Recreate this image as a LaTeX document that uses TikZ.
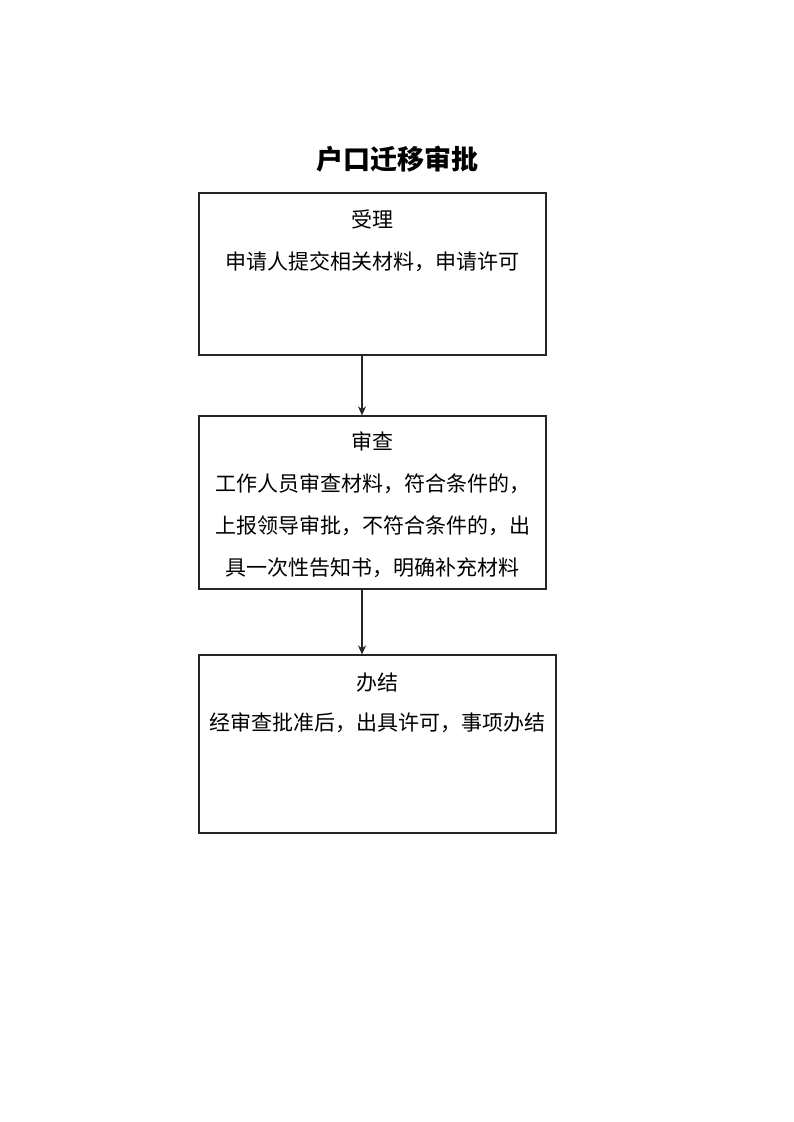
\documentclass[tikz,border=0pt]{standalone}
\usepackage{fontspec}
\newfontfamily\cjk{Noto Sans CJK SC}
\usetikzlibrary{arrows.meta}
\begin{document}
\begin{tikzpicture}[x=1pt,y=-1pt,
  box/.style={draw=black!85, line width=1.2pt, inner sep=0pt, fill=none},
  txt/.style={font=\cjk\fontsize{21}{21}\selectfont, inner sep=0pt, text height=0.88em, text depth=0.12em, anchor=center},
  ttl/.style={font=\cjk\bfseries\fontsize{27}{27}\selectfont, inner sep=0pt, text height=0.88em, text depth=0.12em, anchor=center},
  arr/.style={draw=black!85, line width=1.1pt, -{Stealth[length=9pt,width=8pt]}}]
\useasboundingbox[fill=white] (0,0) rectangle (793,1122);

\node[ttl] (title) at (397.5,166) {户口迁移审批};

\node[box, minimum width=347pt, minimum height=162pt] (b1) at (372.5,274) {};
\node[txt] (b1h) at (372.5,224) {受理};
\node[txt] (b1t) at (372.5,266) {申请人提交相关材料，申请许可};

\node[box, minimum width=347pt, minimum height=173pt] (b2) at (372.5,502.5) {};
\node[txt] (b2h) at (372.5,446) {审查};
\node[txt] (b2t1) at (372.5,488) {工作人员审查材料，符合条件的，};
\node[txt] (b2t2) at (372.5,530) {上报领导审批，不符合条件的，出};
\node[txt] (b2t3) at (372.5,572) {具一次性告知书，明确补充材料};

\node[box, minimum width=357pt, minimum height=178pt] (b3) at (377.5,744) {};
\node[txt] (b3h) at (377.5,687) {办结};
\node[txt] (b3t) at (377.5,727) {经审查批准后，出具许可，事项办结};

\coordinate (ax) at (362,0);
\draw[arr] (b1.south -| ax) -- (b2.north -| ax);
\draw[arr] (b2.south -| ax) -- (b3.north -| ax);
\end{tikzpicture}
\end{document}
